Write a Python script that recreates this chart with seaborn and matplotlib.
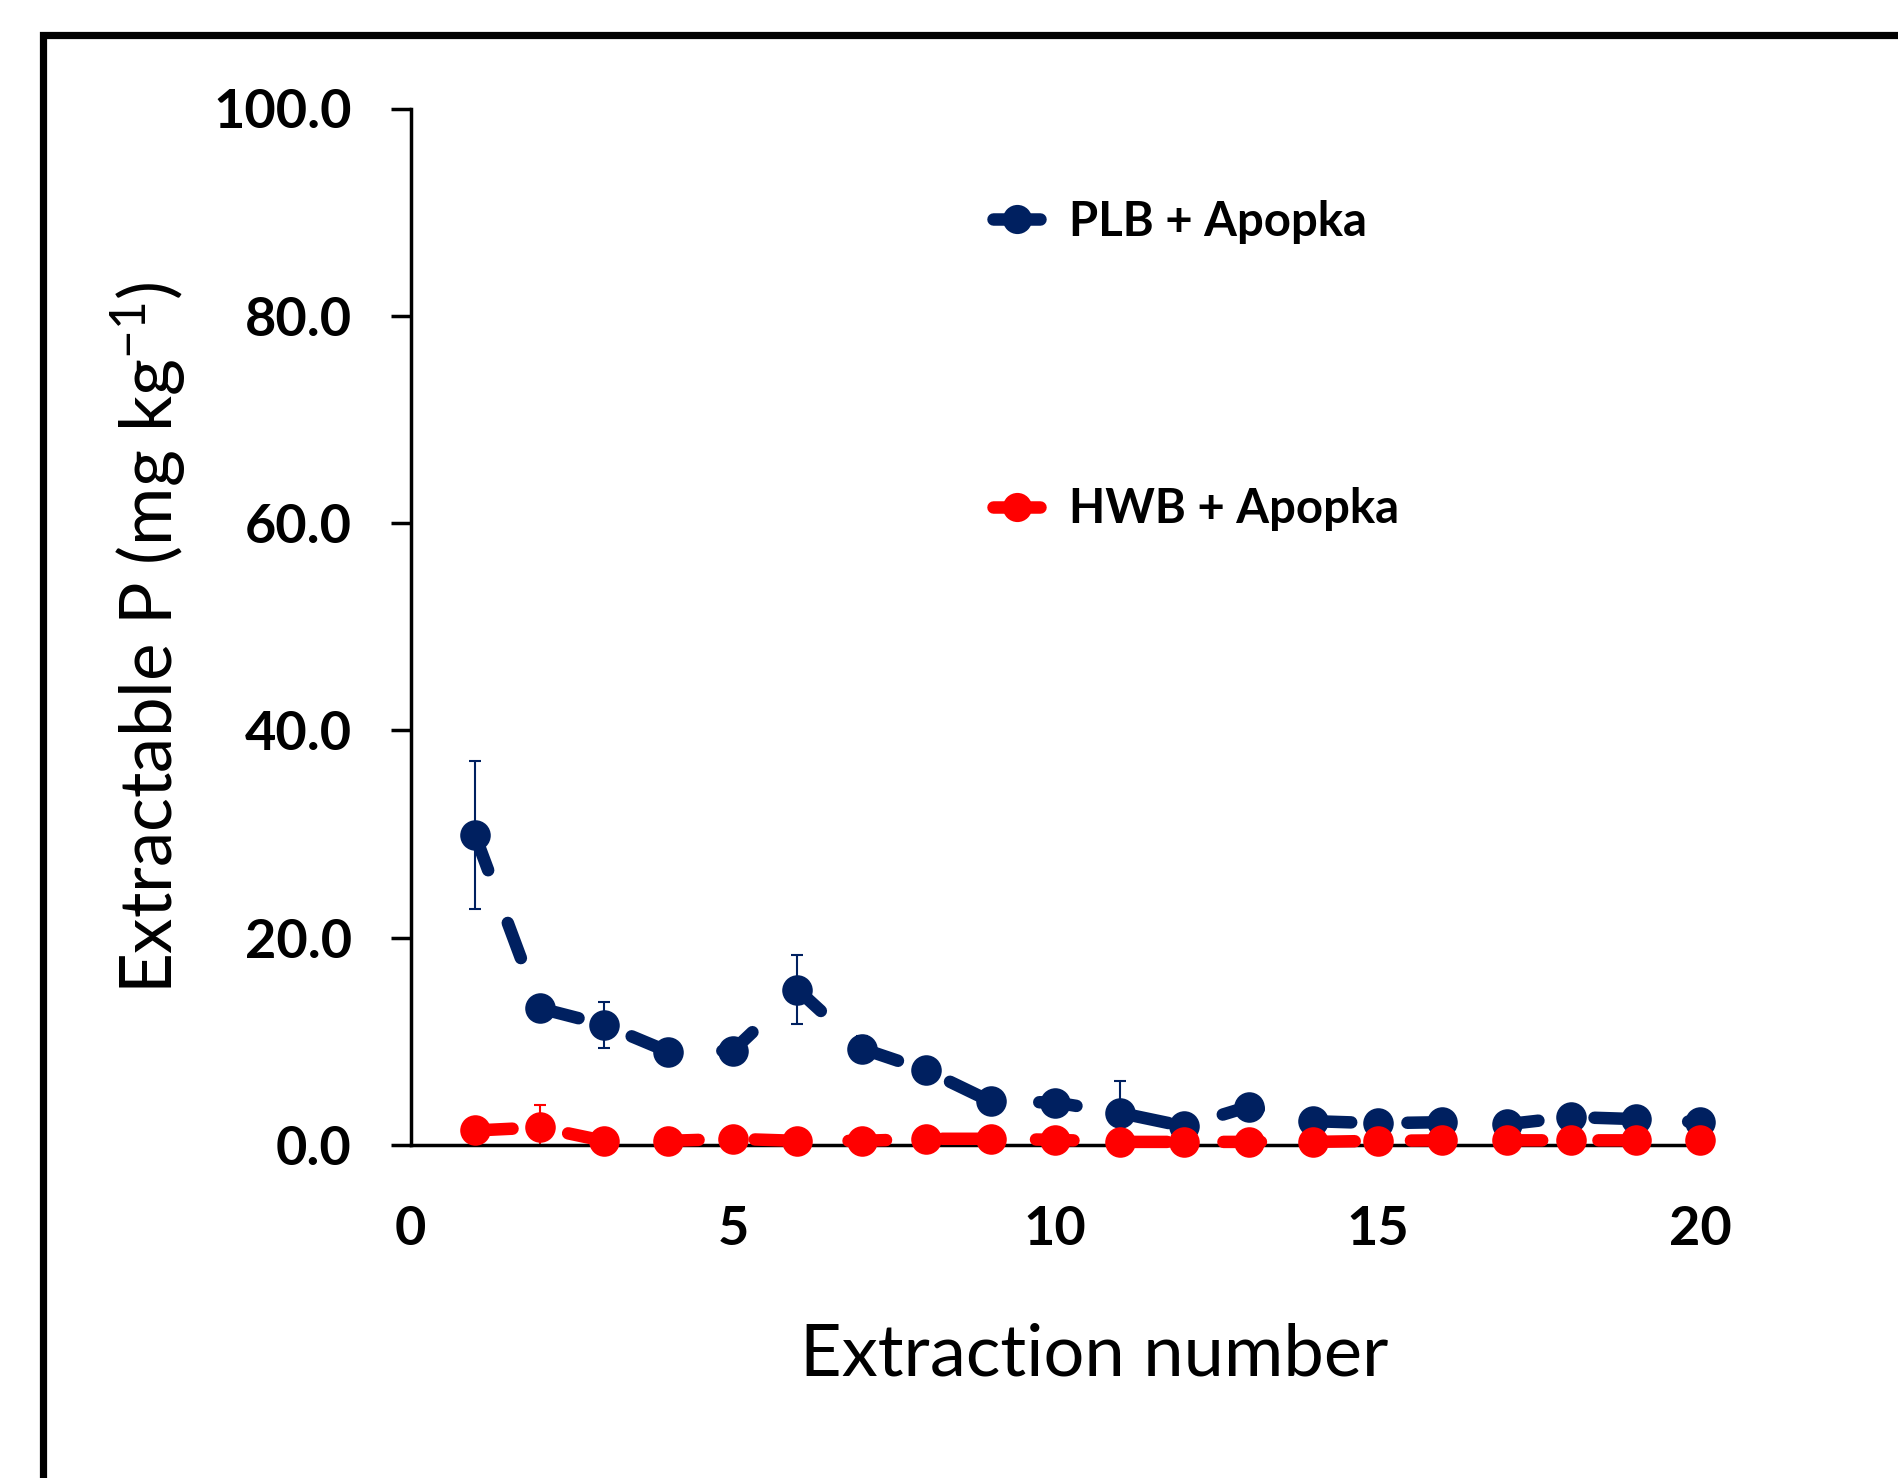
import numpy as np
import pandas as pd
import matplotlib
matplotlib.use("Agg")
import matplotlib.pyplot as plt
import seaborn as sns
from matplotlib.lines import Line2D
from matplotlib.legend_handler import HandlerLine2D

# ---------------- data ----------------
extraction = list(range(1, 21))
plb_mean = [29.9, 13.2, 11.6, 9.0, 9.1, 15.0, 9.3, 7.2, 4.2, 4.1,
            3.1, 1.8, 3.7, 2.3, 2.1, 2.2, 2.0, 2.7, 2.5, 2.2]
plb_err = [7.1, 0.3, 2.2, 0.5, 0.3, 3.3, 1.2, 0.3, 0.5, 0.3,
           3.1, 0.3, 0.3, 0.3, 0.3, 0.3, 0.3, 0.3, 0.3, 0.3]
hwb_mean = [1.4, 1.7, 0.4, 0.4, 0.6, 0.4, 0.4, 0.6, 0.6, 0.5,
            0.3, 0.3, 0.3, 0.3, 0.4, 0.45, 0.45, 0.45, 0.45, 0.45]
hwb_err = [0.2, 2.2, 0.2, 0.2, 0.2, 0.2, 0.2, 0.2, 0.2, 0.2,
           0.2, 0.2, 0.2, 0.2, 0.2, 0.2, 0.2, 0.2, 0.2, 0.2]
series_names = ["PLB + Apopka", "HWB + Apopka"]
series_colors = ["#002060", "#FF0000"]
y_ticks = [0, 20, 40, 60, 80, 100]
x_ticks = [0, 5, 10, 15, 20]

df = pd.DataFrame({
    "x": extraction * 2,
    "y": plb_mean + hwb_mean,
    "err": plb_err + hwb_err,
    "series": [series_names[0]] * 20 + [series_names[1]] * 20,
})

# ---------------- style ----------------
sns.set_style("white")
plt.rcParams["font.family"] = ["Lato", "DejaVu Sans"]
plt.rcParams["text.color"] = "black"
plt.rcParams["axes.labelcolor"] = "black"
plt.rcParams["mathtext.fontset"] = "custom"
plt.rcParams["mathtext.rm"] = "Lato"
plt.rcParams["mathtext.it"] = "Lato:italic"
plt.rcParams["mathtext.bf"] = "Lato:bold"

W, H = 1899, 1478
fig = plt.figure(figsize=(W / 100, H / 100), dpi=100)
ax = fig.add_axes([410.6 / W, 1 - 1145 / H, (1700 - 410.6) / W, (1145 - 108.5) / H])

LW = 9.0
for name, col in zip(series_names, series_colors):
    sub = df[df["series"] == name]
    ax.errorbar(sub["x"], sub["y"], yerr=sub["err"], fmt="none", ecolor=col,
                elinewidth=1.5, capsize=4.5, capthick=1.5, zorder=2)
    sns.lineplot(data=sub, x="x", y="y", ax=ax, color=col, linewidth=LW,
                 linestyle=(0, (3, 4.5)), dash_capstyle="round",
                 solid_capstyle="round", marker="o", markersize=22,
                 markeredgewidth=0, errorbar=None, legend=False,
                 zorder=3, clip_on=False)

ax.set_xlim(0, 20)
ax.set_ylim(0, 100)
ax.set_xticks(x_ticks)
ax.set_xticklabels([str(v) for v in x_ticks])
ax.set_yticks(y_ticks)
ax.set_yticklabels([f"{v:.1f}" for v in y_ticks])

for s in ["top", "right"]:
    ax.spines[s].set_visible(False)
for s in ["left", "bottom"]:
    ax.spines[s].set_color("black")
    ax.spines[s].set_linewidth(2.5)

ax.tick_params(axis="y", direction="out", length=14.4, width=2.5, pad=28,
               labelsize=39, colors="black", left=True)
ax.tick_params(axis="x", length=0, pad=43, labelsize=39, colors="black")
for lab in ax.get_xticklabels() + ax.get_yticklabels():
    lab.set_fontweight("bold")

ax.set_xlabel("Extraction number", fontsize=52, color="black")
ax.set_ylabel("Extractable P (mg kg$^{\\mathregular{-1}}$)", fontsize=51, color="black")
ax.xaxis.set_label_coords((1094 - 410.6) / (1700 - 410.6), -(1355 - 1145) / (1145 - 108.5))
ax.yaxis.set_label_coords(-(410.6 - 148) / (1700 - 410.6), (1145 - 638) / (1145 - 108.5))
ax.xaxis.label.set_va("center")
ax.yaxis.label.set_va("center")


class RightMarkerHandler(HandlerLine2D):
    def get_xdata(self, legend, xdescent, ydescent, width, height, fontsize):
        xdata = np.array([-xdescent, -xdescent + width])
        return xdata, np.array([-xdescent + 0.72 * width])


handles = [Line2D([0], [0], color=c, lw=LW, solid_capstyle="round",
                  marker="o", markersize=21, markeredgewidth=0)
           for c in series_colors]
leg = ax.legend(handles, series_names, loc="upper left",
                bbox_to_anchor=((993 - 410.6) / (1700 - 410.6), (1145 - 200) / (1145 - 108.5)),
                frameon=False,
                prop={"family": ["Lato", "DejaVu Sans"], "weight": "bold", "size": 34},
                handlelength=1.0, handletextpad=0.6, labelspacing=5.15,
                borderaxespad=0, borderpad=0,
                handler_map={Line2D: RightMarkerHandler(numpoints=1)})
for t in leg.get_texts():
    t.set_color("black")

# outer chart-area frame (left and top edges visible)
fx = 43 / W
fy = 1 - 34.5 / H
fig.add_artist(Line2D([fx, fx, 1.02], [-0.02, fy, fy], transform=fig.transFigure,
                      color="black", lw=5.2, solid_joinstyle="miter", clip_on=False))

fig.savefig("out.png", dpi=100, facecolor="white")
